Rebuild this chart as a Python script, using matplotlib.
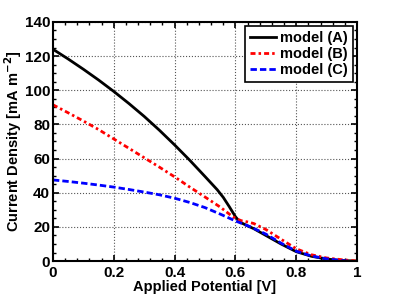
import matplotlib

matplotlib.use("Agg")
import matplotlib.pyplot as plt
from matplotlib.ticker import AutoMinorLocator

plt.rcParams["font.family"] = ["Liberation Sans", "DejaVu Sans"]
plt.rcParams["font.weight"] = "bold"
plt.rcParams["mathtext.default"] = "bf"

# applied potential [V] and current density [mA m^-2]
pot_a = [0.0, 0.05, 0.1, 0.15, 0.2, 0.25, 0.3, 0.35, 0.4, 0.45, 0.5, 0.54,
         0.56, 0.58, 0.6, 0.615, 0.64, 0.66, 0.7, 0.75, 0.8, 0.85, 0.9,
         0.95, 1.0]
model_a = [124, 118.3, 112.3, 106, 99.3, 92.2, 84.7, 76.6, 68, 59, 49.5, 41.8,
           37.3, 31.8, 26, 22.8, 20.6, 19, 15, 10, 5.5, 2.8, 1.2,
           0.3, 0.0]

pot_b = [0.0, 0.05, 0.1, 0.15, 0.2, 0.25, 0.3, 0.35, 0.4, 0.45, 0.5, 0.55,
         0.58, 0.6, 0.62, 0.64, 0.66, 0.7, 0.75, 0.8, 0.85, 0.9, 0.95, 1.0]
model_b = [91.5, 86.8, 82, 77, 71.5, 66, 60.5, 55, 49.3, 43.3, 37.5, 31.6,
           27.5, 25, 23.6, 22.9, 22, 18.5, 12.8, 7.2, 3.7, 1.8, 0.8, 0.0]

pot_c = [0.0, 0.05, 0.1, 0.15, 0.2, 0.25, 0.3, 0.35, 0.4, 0.45, 0.5, 0.55,
         0.6, 0.65, 0.7, 0.75, 0.8, 0.85, 0.9, 0.95, 0.97]
model_c = [47.5, 46.6, 45.6, 44.5, 43.3, 41.9, 40.4, 38.8, 36.8, 34.3, 31.3, 27.5,
           23.5, 20, 15.8, 10.5, 5.8, 3.0, 1.3, 0.3, 0.0]

fig = plt.figure(figsize=(3.95, 2.96), dpi=100)
ax = fig.add_axes([0.134, 0.118, 0.770, 0.808])

ax.plot(pot_a, model_a, color="black", lw=2.0, ls="-", label="model (A)")
ax.plot(pot_b, model_b, color="red", lw=2.0, ls=(0, (1.8, 1.1, 0.9, 1.1)), label="model (B)")
ax.plot(pot_c, model_c, color="blue", lw=2.0, ls=(0, (2.3, 1.1)), label="model (C)")

ax.set_xlim(0, 1)
ax.set_ylim(0, 140)
ax.set_xticks([0, 0.2, 0.4, 0.6, 0.8, 1])
ax.set_xticklabels(["0", "0.2", "0.4", "0.6", "0.8", "1"])
ax.set_yticks(range(0, 141, 20))
ax.xaxis.set_minor_locator(AutoMinorLocator(5))
ax.yaxis.set_minor_locator(AutoMinorLocator(4))
ax.tick_params(which="both", direction="in", top=True, right=True, labelsize=11)
ax.tick_params(which="major", length=4, width=1.2)
ax.tick_params(which="minor", length=2, width=1.0)
ax.tick_params(axis="y", which="major", pad=2)
for s in ax.spines.values():
    s.set_linewidth(1.5)
ax.grid(True, which="major", ls=":", color="#555555", lw=0.8)

ax.set_xlabel("Applied Potential [V]", fontsize=10.5, fontweight="bold", labelpad=0)
ax.set_ylabel("Current Density [mA m$^{-2}$]", fontsize=10.5, fontweight="bold")
ax.yaxis.set_label_coords(-0.095, 0.5)

leg = ax.legend(loc="upper right", fontsize=10.5, fancybox=False, framealpha=1,
                edgecolor="black", borderpad=0.35, handlelength=1.8,
                handletextpad=0.25, labelspacing=0.12, borderaxespad=0.3)
leg.get_frame().set_linewidth(1.2)

fig.savefig("out.png", dpi=100)
